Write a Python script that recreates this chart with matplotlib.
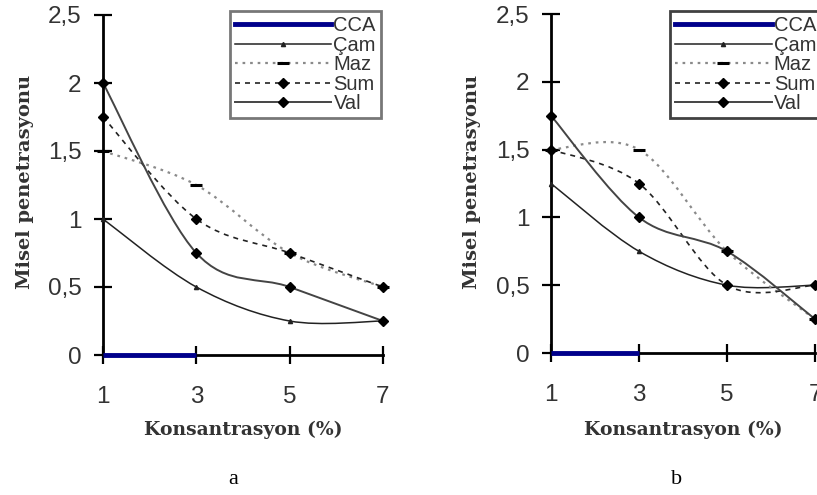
import matplotlib
matplotlib.use("Agg")
import matplotlib.pyplot as plt
from matplotlib.path import Path
from matplotlib.patches import PathPatch
from matplotlib.lines import Line2D

# ---- data ----
x_conc = [1, 3, 5, 7]
cca_x = [1, 3]
cca_y = [0, 0]

a_cam = [1.0, 0.5, 0.25, 0.25]
a_maz = [1.5, 1.25, 0.75, 0.5]
a_sum = [1.75, 1.0, 0.75, 0.5]
a_val = [2.0, 0.75, 0.5, 0.25]

b_cam = [1.25, 0.75, 0.5, 0.5]
b_maz = [1.5, 1.5, 0.75, 0.25]
b_sum = [1.5, 1.25, 0.5, 0.5]
b_val = [1.75, 1.0, 0.75, 0.25]

series_names = ["CCA", "Çam", "Maz", "Sum", "Val"]
y_ticks = [0, 0.5, 1, 1.5, 2, 2.5]
y_ticklabels = ["0", "0,5", "1", "1,5", "2", "2,5"]
x_label = "Konsantrasyon (%)"
y_label = "Misel penetrasyonu"
panel_labels = ["a", "b"]

# ---- styles ----
styles = {
    "Çam": dict(color="#222222", lw=1.1, ls="-", marker="^", ms=3.0, mfc="#222222", mec="#222222"),
    "Maz": dict(color="#8a8a8a", lw=1.6, ls=(0, (1.2, 2.2)), marker="_", ms=9, mew=2.2, mfc="black", mec="black"),
    "Sum": dict(color="#222222", lw=1.2, ls=(0, (3, 3)), marker="D", ms=4.6, mfc="black", mec="black"),
    "Val": dict(color="#444444", lw=1.4, ls="-", marker="D", ms=4.6, mfc="black", mec="black"),
}


def smooth_path(xs, ys):
    """Excel-like smoothed line (Bezier through the data points)."""
    pts = list(zip(xs, ys))
    n = len(pts)
    verts = [pts[0]]
    codes = [Path.MOVETO]
    for i in range(n - 1):
        p0 = pts[i - 1] if i > 0 else pts[i]
        p1 = pts[i]
        p2 = pts[i + 1]
        p3 = pts[i + 2] if i + 2 < n else pts[i + 1]
        c1 = (p1[0] + (p2[0] - p0[0]) / 6.0, p1[1] + (p2[1] - p0[1]) / 6.0)
        c2 = (p2[0] - (p3[0] - p1[0]) / 6.0, p2[1] - (p3[1] - p1[1]) / 6.0)
        verts += [c1, c2, p2]
        codes += [Path.CURVE4] * 3
    return Path(verts, codes)


fig = plt.figure(figsize=(8.17, 4.95), dpi=100)
fig.patch.set_facecolor("white")

W, H = 817.0, 495.0
axes_px = [
    (103, 383, 355, 15),   # x0, x1, y_bottom, y_top (pixels)
    (551, 815, 353, 14),
]
data_sets = [
    dict(cam=a_cam, maz=a_maz, sum=a_sum, val=a_val),
    dict(cam=b_cam, maz=b_maz, sum=b_sum, val=b_val),
]
legend_anchor = [((381 / W, 1 - 11 / H), "upper right"), ((670 / W, 1 - 11 / H), "upper left")]
legend_edge = ["#555555", "#111111"]
ylabel_x = [25, 472]
panel_label_x = [233, 677]

for k in range(2):
    x0, x1, yb, yt = axes_px[k]
    ax = fig.add_axes([x0 / W, 1 - yb / H, (x1 - x0) / W, (yb - yt) / H])
    ax.set_xlim(1, 7)
    ax.set_ylim(0, 2.5)
    ax.patch.set_alpha(0)
    for s in ["top", "right"]:
        ax.spines[s].set_visible(False)
    for s in ["left", "bottom"]:
        ax.spines[s].set_linewidth(2.0)
        ax.spines[s].set_color("black")
    ax.set_xticks(x_conc)
    ax.set_xticklabels([str(v) for v in x_conc])
    ax.set_yticks(y_ticks)
    ax.set_yticklabels(y_ticklabels)
    ax.tick_params(axis="both", direction="inout", length=13, width=1.6, color="black",
                   labelcolor="#333333", labelsize=17.5)
    ax.tick_params(axis="y", pad=9)
    ax.tick_params(axis="x", pad=16)
    for lab in ax.get_xticklabels() + ax.get_yticklabels():
        lab.set_fontfamily("Liberation Sans")

    d = data_sets[k]
    for name, key in [("Çam", "cam"), ("Maz", "maz"), ("Sum", "sum"), ("Val", "val")]:
        st = styles[name]
        patch = PathPatch(smooth_path(x_conc, d[key]), fill=False, edgecolor=st["color"],
                          lw=st["lw"], ls=st["ls"], clip_on=False, zorder=3)
        ax.add_patch(patch)
        ax.plot(x_conc, d[key], ls="none", marker=st["marker"], ms=st["ms"],
                mfc=st["mfc"], mec=st["mec"], mew=st.get("mew", 1.0), clip_on=False, zorder=4)

    ax.plot(cca_x, cca_y, color="#00008B", lw=3.5, solid_capstyle="butt", clip_on=False, zorder=5)

    # legend
    handles = [Line2D([], [], color="#00008B", lw=3.5)]
    for name in series_names[1:]:
        st = styles[name]
        handles.append(Line2D([], [], color=st["color"], lw=st["lw"], ls=st["ls"],
                              marker=st["marker"], ms=st["ms"], mfc=st["mfc"], mec=st["mec"],
                              mew=st.get("mew", 1.0)))
    anchor, loc = legend_anchor[k]
    leg = ax.legend(handles, series_names, loc=loc, bbox_to_anchor=anchor,
                    bbox_transform=fig.transFigure, frameon=True, fancybox=False,
                    handlelength=4.8, handletextpad=0.1, labelspacing=0.03,
                    borderpad=0.25, borderaxespad=0, markerscale=1.0, numpoints=1,
                    prop=dict(family="Liberation Sans", size=14.5))
    leg.get_frame().set_edgecolor(legend_edge[k])
    leg.get_frame().set_linewidth(2.0)
    for t in leg.get_texts():
        t.set_color("#333333")

    # axis labels
    fig.text((x0 + x1) / 2 / W, 1 - 430 / H, x_label, ha="center", va="center",
             family="DejaVu Serif", weight="bold", size=13.5, color="#333333")
    fig.text(ylabel_x[k] / W, 1 - 182 / H, y_label, ha="center", va="center", rotation=90,
             family="DejaVu Serif", weight="bold", size=14, color="#333333")
    fig.text(panel_label_x[k] / W, 1 - 480 / H, panel_labels[k], ha="center", va="center",
             family="Liberation Serif", size=16, color="black")

fig.savefig("out.png", dpi=100, facecolor="white")
